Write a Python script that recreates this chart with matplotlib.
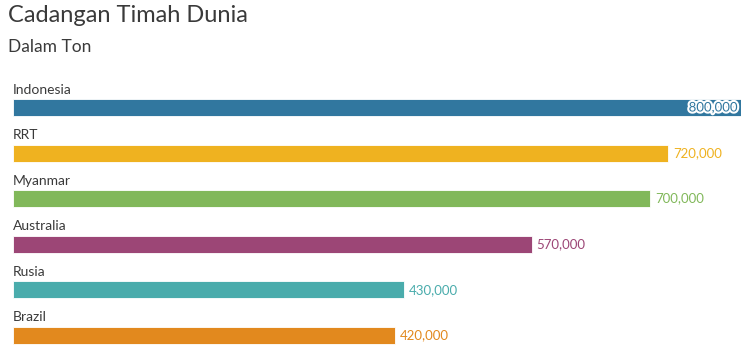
import matplotlib.pyplot as plt
import matplotlib.patheffects as pe

negara = ['Indonesia', 'RRT', 'Myanmar', 'Australia', 'Rusia', 'Brazil']
cadangan = [800000, 720000, 700000, 570000, 430000, 420000]
warna = ['#31779f', '#efb220', '#81b85a', '#9c4676', '#4aacac', '#e2891e']

plt.rcParams['font.family'] = ['Lato', 'DejaVu Sans']

fig = plt.figure(figsize=(7.44, 3.55), dpi=100)
ax = fig.add_axes([13 / 744, 0, 728 / 744, 270.3 / 355])

posisi = list(range(len(negara)))
tinggi = 0.37
stolpci = ax.barh(posisi, cadangan, height=tinggi, color=warna,
                  edgecolor='white', linewidth=0.6)

ax.set_xlim(0, 800000)
ax.set_ylim(5.43, -0.5)
ax.axis('off')

for i, (ime, vrednost, barva) in enumerate(zip(negara, cadangan, warna)):
    ax.annotate(ime, xy=(0, i - tinggi / 2), xytext=(0, 2.5),
                textcoords='offset points', ha='left', va='bottom',
                fontsize=10, color='#3a3a3a')
    besedilo = f'{vrednost:,}'
    if vrednost >= max(cadangan):
        ax.annotate(besedilo, xy=(vrednost, i), xytext=(-2.5, 0),
                    textcoords='offset points', ha='right', va='center',
                    fontsize=9.5, color=barva,
                    path_effects=[pe.withStroke(linewidth=3, foreground='white')])
    else:
        ax.annotate(besedilo, xy=(vrednost, i), xytext=(3.5, 0),
                    textcoords='offset points', ha='left', va='center',
                    fontsize=9.5, color=barva)

fig.text(8 / 744, 1 - 15 / 355, 'Cadangan Timah Dunia', fontsize=17,
         color='#3a3a3a', ha='left', va='center')
fig.text(8 / 744, 1 - 47 / 355, 'Dalam Ton', fontsize=12.5,
         color='#3a3a3a', ha='left', va='center')

fig.savefig('out.png', dpi=100, facecolor='white')
